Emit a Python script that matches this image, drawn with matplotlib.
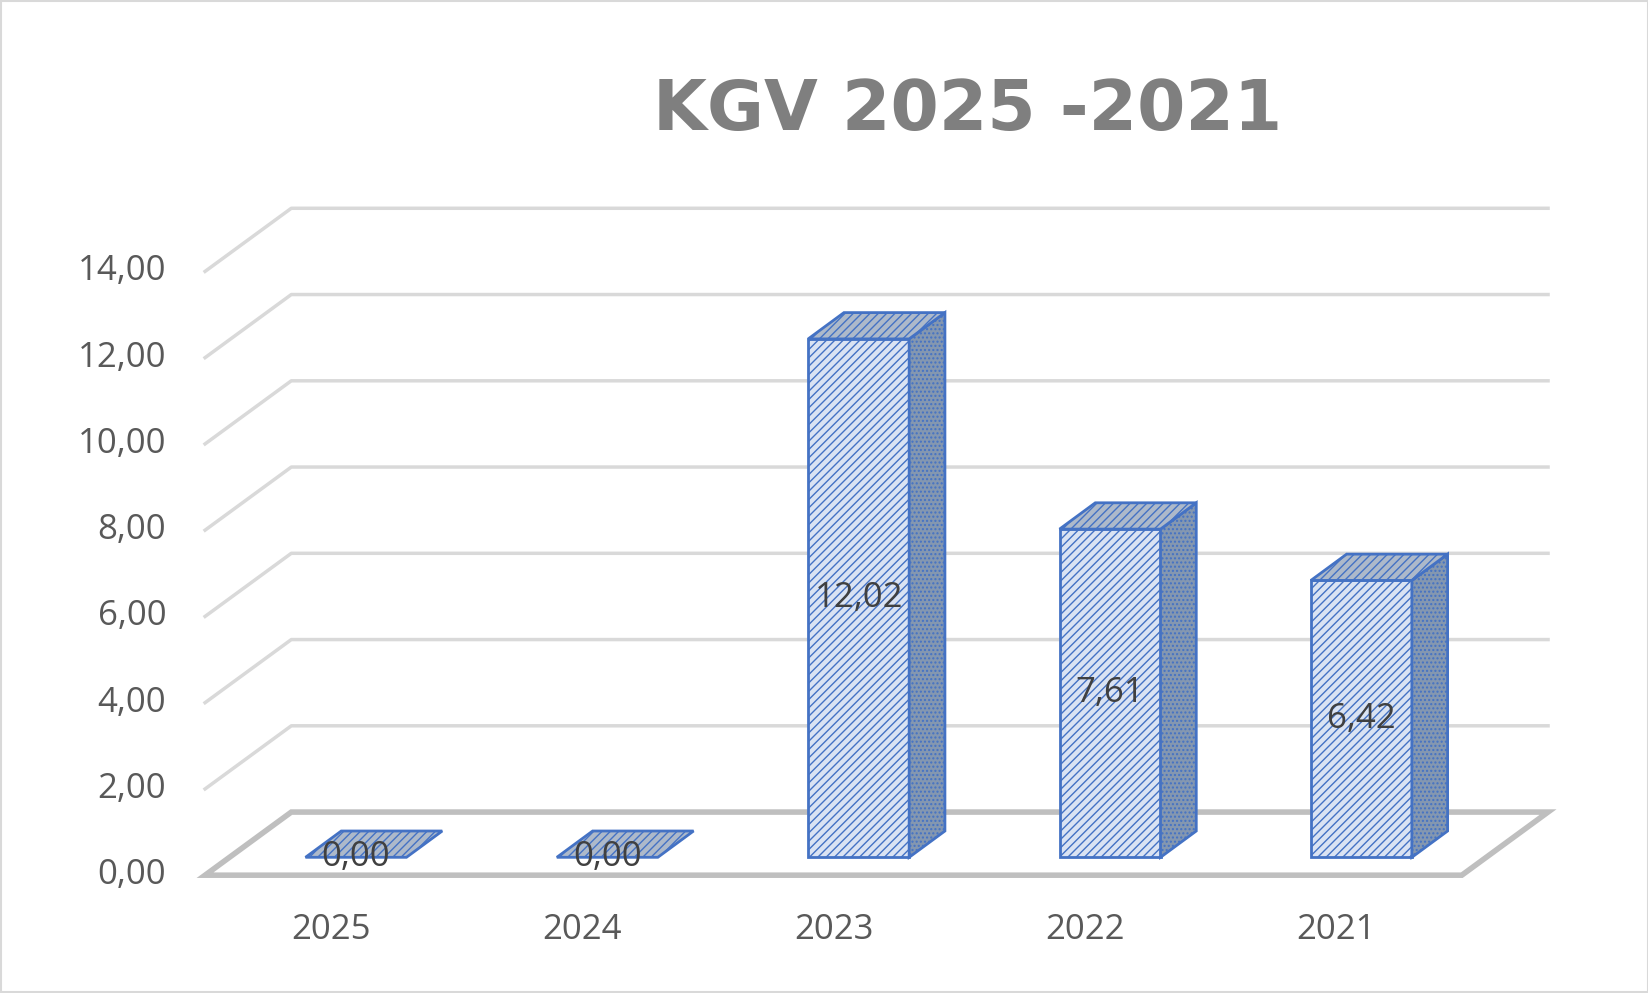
import matplotlib
matplotlib.use("Agg")
import matplotlib.pyplot as plt
from matplotlib.patches import Polygon, Rectangle

years = ["2025", "2024", "2023", "2022", "2021"]
values = [0.00, 0.00, 12.02, 7.61, 6.42]
yticks = [0, 2, 4, 6, 8, 10, 12, 14]
title = "KGV 2025 -2021"

plt.rcParams['font.family'] = ['Open Sans', 'DejaVu Sans']
W, H = 1568, 944
fig = plt.figure(figsize=(16.49, 9.93), dpi=100)
ax = fig.add_axes([0, 0, 1, 1])
ax.set_xlim(0, W); ax.set_ylim(H, 0); ax.axis('off')

ax.add_patch(Rectangle((1, 1), W - 2, H - 2, fill=False, ec='#d9d9d9', lw=1.5))

unit = 41.0
fx0, fx1, fy0 = 195, 1390, 832   # front floor edge
dx, dy = 82, -60                  # depth offset
grid = '#d9d9d9'
for v in yticks:
    y = fy0 - v * unit
    ax.text(fx0 - 37, y, f"{v:.2f}".replace('.', ','), ha='right', va='center', fontsize=25, color='#595959')
    if v == 0:
        continue
    ax.plot([fx0, fx0 + dx, fx1 + dx], [y, y + dy, y + dy], color=grid, lw=2.5, zorder=1)
# floor
ax.add_patch(Polygon([(fx0, fy0), (fx1, fy0), (fx1 + dx, fy0 + dy), (fx0 + dx, fy0 + dy)],
                     closed=True, fill=False, ec='#bfbfbf', lw=4, zorder=1))

slot = (fx1 - fx0) / len(years)
bw, bdx, bdy = 96, 34, -25
base = 815
edge = '#4472c4'
for i, (yr, v) in enumerate(zip(years, values)):
    cx = fx0 + slot * (i + 0.5) + 24
    x0, x1 = cx - bw / 2, cx + bw / 2
    top = base - v * unit
    if v > 0:
        ax.add_patch(Polygon([(x0, base), (x1, base), (x1, top), (x0, top)], closed=True,
                             fc='#dae3f3', ec=edge, hatch='////', lw=2, zorder=3))
        ax.add_patch(Polygon([(x1, base), (x1 + bdx, base + bdy), (x1 + bdx, top + bdy), (x1, top)],
                             closed=True, fc='#8497b0', ec=edge, hatch='....', lw=2, zorder=3))
    ax.add_patch(Polygon([(x0, top), (x1, top), (x1 + bdx, top + bdy), (x0 + bdx, top + bdy)],
                         closed=True, fc='#adb9ca', ec=edge, hatch='////', lw=2, zorder=3))
    ly = (base + top) / 2 if v > 0 else base
    ax.text(cx, ly, f"{v:.2f}".replace('.', ','), ha='center', va='center', fontsize=25, color='#404040', zorder=5)
    ax.text(fx0 + slot * (i + 0.5), 884, yr, ha='center', va='center', fontsize=25, color='#595959')

ax.text(920, 105, title, ha='center', va='center', fontsize=50, fontweight='bold',
        color='#7f7f7f', family=['DejaVu Sans'])
fig.savefig("out.png", dpi=100)
